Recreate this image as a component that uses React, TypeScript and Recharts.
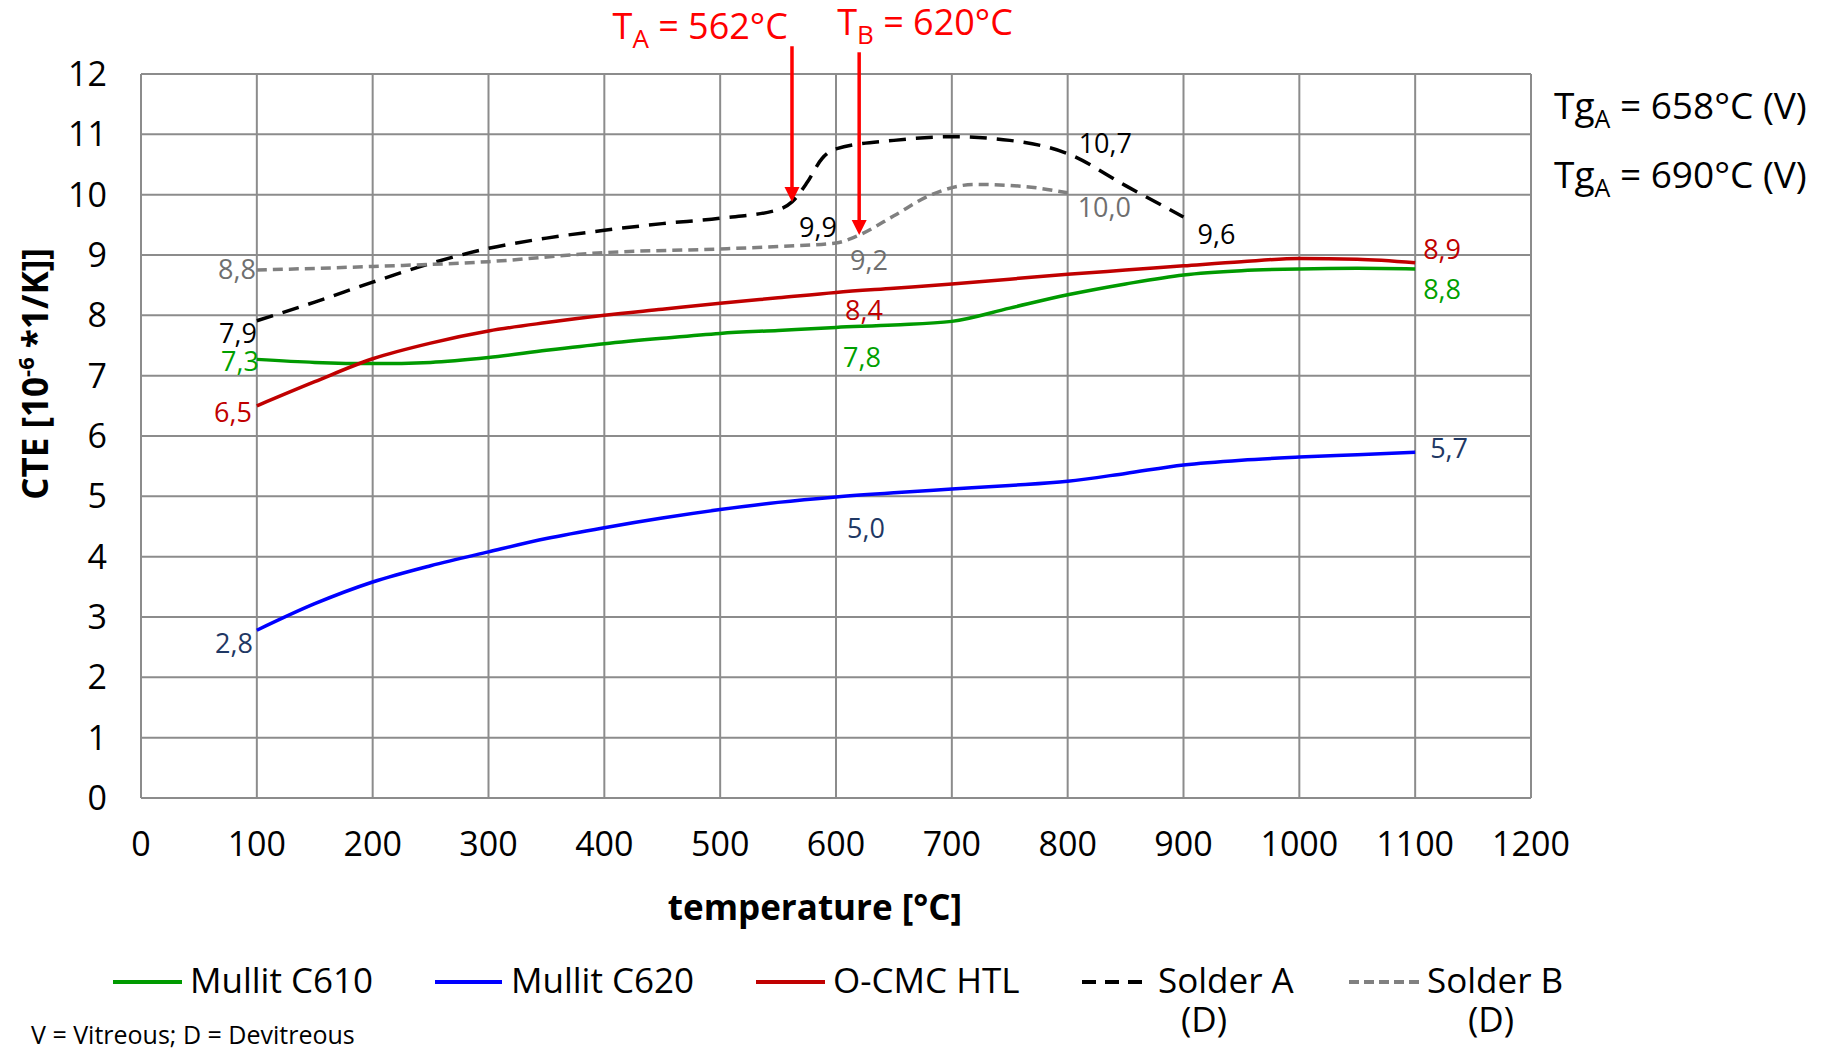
import { LineChart, Line, XAxis, YAxis, CartesianGrid, ReferenceLine, ReferenceDot, Legend, Label } from "recharts";

// temperatures (°C) shared by the three material curves
const TEMPS = [100, 150, 200, 250, 300, 350, 400, 450, 500, 550, 600, 650, 700, 750, 800, 850, 900, 950, 1000, 1050, 1100];
const MULLIT_C610 = [7.27, 7.22, 7.2, 7.22, 7.3, 7.42, 7.53, 7.62, 7.7, 7.75, 7.8, 7.84, 7.9, 8.12, 8.34, 8.52, 8.67, 8.74, 8.77, 8.78, 8.77];
const MULLIT_C620 = [2.78, 3.22, 3.58, 3.85, 4.08, 4.3, 4.48, 4.64, 4.78, 4.9, 4.99, 5.06, 5.12, 5.18, 5.25, 5.38, 5.52, 5.6, 5.65, 5.69, 5.73];
const OCMC_HTL = [6.5, 6.9, 7.28, 7.54, 7.74, 7.88, 8.0, 8.1, 8.2, 8.29, 8.38, 8.45, 8.52, 8.6, 8.68, 8.75, 8.82, 8.89, 8.94, 8.93, 8.87];

const SOLDER_A_TEMPS = [100, 150, 200, 250, 300, 350, 400, 450, 500, 550, 562, 575, 588, 600, 650, 700, 750, 800, 850, 900];
const SOLDER_A = [7.91, 8.22, 8.55, 8.86, 9.11, 9.28, 9.41, 9.52, 9.61, 9.75, 9.88, 10.2, 10.6, 10.76, 10.9, 10.96, 10.9, 10.68, 10.15, 9.63];

const SOLDER_B_TEMPS = [100, 200, 300, 400, 500, 550, 600, 620, 650, 680, 720, 760, 800];
const SOLDER_B = [8.75, 8.81, 8.89, 9.04, 9.1, 9.14, 9.2, 9.33, 9.65, 9.98, 10.17, 10.14, 10.03];

const X_TICKS = [0, 100, 200, 300, 400, 500, 600, 700, 800, 900, 1000, 1100, 1200];
const Y_TICKS = [0, 1, 2, 3, 4, 5, 6, 7, 8, 9, 10, 11, 12];

const T_A = 562;
const T_B = 620;

const toPoints = (ts: number[], vs: number[]) => ts.map((t, i) => ({ t, v: vs[i] }));

const GREEN = "#009a00";
const BLUE = "#0000ff";
const RED = "#c00000";
const GRAY = "#808080";
const ARROW = "#ff0000";
const GRID = "#8c8c8c";
const FONT = "'Open Sans', 'Noto Sans', sans-serif";

const SERIES = [
  { name: "Mullit C610", data: toPoints(TEMPS, MULLIT_C610), color: GREEN, dash: undefined },
  { name: "Mullit C620", data: toPoints(TEMPS, MULLIT_C620), color: BLUE, dash: undefined },
  { name: "O-CMC HTL", data: toPoints(TEMPS, OCMC_HTL), color: RED, dash: undefined },
  { name: "Solder A", data: toPoints(SOLDER_A_TEMPS, SOLDER_A), color: "#000000", dash: "17 10" },
  { name: "Solder B", data: toPoints(SOLDER_B_TEMPS, SOLDER_B), color: GRAY, dash: "10 6" },
];

// value tags written next to the curves
const TAGS = [
  { text: "8,8", t: 100, v: 8.75, color: "#6f6f6f", dx: -1, dy: 9, anchor: "end" },
  { text: "7,9", t: 100, v: 7.91, color: "#000000", dx: 0, dy: 22, anchor: "end" },
  { text: "7,3", t: 100, v: 7.27, color: "#00a000", dx: 2, dy: 12, anchor: "end" },
  { text: "6,5", t: 100, v: 6.5, color: RED, dx: -5, dy: 16, anchor: "end" },
  { text: "2,8", t: 100, v: 2.78, color: "#1f3864", dx: -4, dy: 23, anchor: "end" },
  { text: "9,9", t: 562, v: 9.88, color: "#000000", dx: 7, dy: 35, anchor: "start" },
  { text: "9,2", t: 600, v: 9.2, color: "#6f6f6f", dx: 14, dy: 27, anchor: "start" },
  { text: "8,4", t: 600, v: 8.38, color: RED, dx: 9, dy: 28, anchor: "start" },
  { text: "7,8", t: 600, v: 7.8, color: "#00a000", dx: 7, dy: 40, anchor: "start" },
  { text: "5,0", t: 600, v: 4.99, color: "#1f3864", dx: 11, dy: 41, anchor: "start" },
  { text: "10,7", t: 800, v: 10.68, color: "#000000", dx: 11, dy: -1, anchor: "start" },
  { text: "10,0", t: 800, v: 10.03, color: "#6f6f6f", dx: 10, dy: 24, anchor: "start" },
  { text: "9,6", t: 900, v: 9.63, color: "#000000", dx: 14, dy: 27, anchor: "start" },
  { text: "8,9", t: 1100, v: 8.87, color: RED, dx: 8, dy: -4, anchor: "start" },
  { text: "8,8", t: 1100, v: 8.77, color: "#00a000", dx: 8, dy: 30, anchor: "start" },
  { text: "5,7", t: 1100, v: 5.73, color: "#1f3864", dx: 15, dy: 6, anchor: "start" },
];

const LEGEND_POS = [
  { x1: 105, x2: 174, tx: 182 },
  { x1: 427, x2: 494, tx: 503 },
  { x1: 748, x2: 817, tx: 825 },
  { x1: 1074, x2: 1143, tx: 1150, dx: 1173 },
  { x1: 1341, x2: 1411, tx: 1419, dx: 1460 },
];
const LEGEND_DASH = [undefined, undefined, undefined, "14 9", "10 5"];

const arrowShape = (sub: string, rest: string, anchor: string, tdx: number, tdy: number) => (p: any) => {
  const { x1, y1, x2, y2 } = p;
  return (
    <g>
      <line x1={x1} y1={y1} x2={x2} y2={y2 - 12} stroke={ARROW} strokeWidth={3.5} />
      <polygon points={`${x2 - 7.5},${y2 - 15} ${x2 + 7.5},${y2 - 15} ${x2},${y2}`} fill={ARROW} />
      <text x={x1 + tdx} y={y1 + tdy} textAnchor={anchor} fill={ARROW} fontSize={36} style={{ whiteSpace: "pre" }}>
        T<tspan fontSize={26} dy={9}>{sub}</tspan>
        <tspan dy={-9}>{rest}</tspan>
      </text>
    </g>
  );
};

const tagShape = (tag: any) => (p: any) => (
  <text x={p.cx + tag.dx} y={p.cy + tag.dy} textAnchor={tag.anchor} fill={tag.color} fontSize={27}>
    {tag.text}
  </text>
);

const YTitle = (props: any) => {
  const x = 40;
  const y = 366;
  return (
    <text x={x} y={y} transform={`rotate(-90, ${x}, ${y})`} textAnchor="middle" fontSize={35} fontWeight="bold" fill="#000">
      CTE [10<tspan fontSize={22} dy={-14}>-6</tspan>
      <tspan dy={14}> *1/K]]</tspan>
    </text>
  );
};

const XTitle = (props: any) => {
  const vb = props.viewBox;
  return (
    <text x={vb.x + vb.width / 2 - 21} y={vb.y + 122} textAnchor="middle" fontSize={35} fontWeight="bold" fill="#000">
      temperature [°C]
    </text>
  );
};

const LegendBox = () => (
  <svg width={1812} height={120} style={{ display: "block", overflow: "visible" }}>
    {SERIES.map((s, i) => {
      const pos: any = LEGEND_POS[i];
      return (
        <g key={s.name}>
          <line x1={pos.x1} y1={52} x2={pos.x2} y2={52} stroke={s.color} strokeWidth={4} strokeDasharray={LEGEND_DASH[i]} />
          <text x={pos.tx} y={63} fontSize={35} fill="#000">{s.name}</text>
          {pos.dx && <text x={pos.dx} y={102} fontSize={35} fill="#000">(D)</text>}
        </g>
      );
    })}
  </svg>
);

export default function App() {
  return (
    <div style={{ position: "relative", width: 1812, height: 1042, fontFamily: FONT }}>
      <LineChart width={1812} height={1042} margin={{ top: 66, right: 289, left: 0, bottom: 0 }}>
        <CartesianGrid stroke={GRID} strokeWidth={2} />
        <XAxis
          type="number"
          dataKey="t"
          domain={[0, 1200]}
          ticks={X_TICKS}
          height={132}
          tickLine={false}
          tickMargin={28}
          axisLine={{ stroke: GRID, strokeWidth: 2 }}
          tick={{ fill: "#000", fontSize: 34 }}
          allowDataOverflow
          label={<Label content={XTitle} />}
        />
        <YAxis
          type="number"
          domain={[0, 12]}
          ticks={Y_TICKS}
          width={133}
          tickLine={false}
          tickMargin={28}
          axisLine={false}
          tick={{ fill: "#000", fontSize: 34 }}
          label={<Label content={YTitle} />}
        />
        {SERIES.map((s) => (
          <Line
            key={s.name}
            data={s.data}
            dataKey="v"
            name={s.name}
            type="monotone"
            stroke={s.color}
            strokeWidth={3.5}
            strokeDasharray={s.dash}
            dot={false}
            activeDot={false}
            isAnimationActive={false}
          />
        ))}
        <ReferenceLine
          segment={[{ x: T_A, y: 12.46 }, { x: T_A, y: 9.88 }]}
          ifOverflow="visible"
          shape={arrowShape("A", " = 562°C", "end", -4, -7)}
        />
        <ReferenceLine
          segment={[{ x: T_B, y: 12.36 }, { x: T_B, y: 9.33 }]}
          ifOverflow="visible"
          shape={arrowShape("B", " = 620°C", "start", -22, -17)}
        />
        {TAGS.map((tag, i) => (
          <ReferenceDot key={i} x={tag.t} y={tag.v} r={1} ifOverflow="visible" shape={tagShape(tag)} />
        ))}
        <Legend
          verticalAlign="bottom"
          align="left"
          wrapperStyle={{ left: 0, bottom: 0, width: 1812, height: 120 }}
          content={() => <LegendBox />}
        />
      </LineChart>
      <svg width={1812} height={1042} style={{ position: "absolute", left: 0, top: 0, pointerEvents: "none" }}>
        <text x={1546} y={111} fontSize={37} fill="#000" style={{ whiteSpace: "pre" }}>
          Tg<tspan fontSize={25} dy={9}>A</tspan>
          <tspan dy={-9}> = 658°C (V)</tspan>
        </text>
        <text x={1546} y={180} fontSize={37} fill="#000" style={{ whiteSpace: "pre" }}>
          Tg<tspan fontSize={25} dy={9}>A</tspan>
          <tspan dy={-9}> = 690°C (V)</tspan>
        </text>
        <text x={23} y={1036} fontSize={25} fill="#000">V = Vitreous; D = Devitreous</text>
      </svg>
    </div>
  );
}
